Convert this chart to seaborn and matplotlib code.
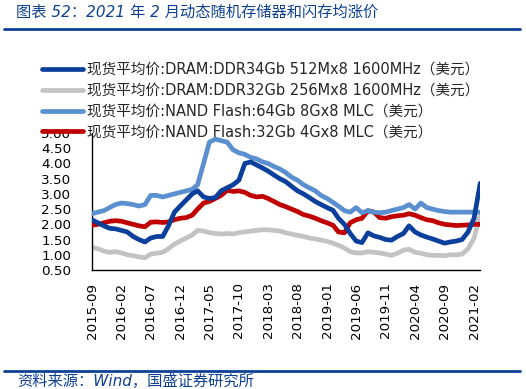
import pandas as pd
import seaborn as sns
import matplotlib.pyplot as plt
import matplotlib.dates as mdates

sns.set_style("white")
plt.rcParams['font.family'] = ['DejaVu Sans', 'Noto Sans CJK SC']

# monthly readings from 2015-09 to 2021-02, plus last point in early 2021-03
dates = list(pd.date_range("2015-09-01", "2021-02-01", freq="MS")) + [pd.Timestamp("2021-03-05")]

ddr3_4gb = [2.15, 2.05, 1.95, 1.87, 1.85, 1.80, 1.75, 1.60, 1.50, 1.42,
            1.55, 1.60, 1.60, 1.95, 2.40, 2.60, 2.80, 3.00, 3.10, 2.90,
            2.85, 2.88, 3.10, 3.20, 3.30, 3.45, 4.00, 4.05, 3.95, 3.85,
            3.75, 3.62, 3.50, 3.40, 3.25, 3.10, 3.00, 2.88, 2.75, 2.65,
            2.55, 2.46, 2.20, 2.00, 1.70, 1.45, 1.40, 1.72, 1.62, 1.57,
            1.50, 1.48, 1.60, 1.70, 1.95, 1.75, 1.65, 1.58, 1.52, 1.45,
            1.38, 1.42, 1.45, 1.50, 1.75, 2.20, 3.35]

ddr3_2gb = [1.24, 1.20, 1.12, 1.08, 1.10, 1.06, 1.00, 0.97, 0.93, 0.90,
            1.02, 1.05, 1.08, 1.20, 1.35, 1.45, 1.55, 1.65, 1.80, 1.78,
            1.73, 1.70, 1.68, 1.70, 1.68, 1.73, 1.75, 1.78, 1.80, 1.82,
            1.82, 1.80, 1.78, 1.72, 1.68, 1.64, 1.60, 1.55, 1.52, 1.48,
            1.44, 1.38, 1.31, 1.22, 1.10, 1.06, 1.06, 1.10, 1.08, 1.06,
            1.02, 0.98, 1.05, 1.15, 1.18, 1.08, 1.05, 1.00, 0.98, 0.98,
            0.97, 1.00, 1.00, 1.02, 1.20, 1.55, 2.35]

nand_64gb = [2.35, 2.40, 2.45, 2.55, 2.65, 2.70, 2.68, 2.65, 2.60, 2.65,
             2.95, 2.95, 2.90, 2.95, 3.00, 3.05, 3.10, 3.15, 3.30, 4.00,
             4.70, 4.80, 4.75, 4.70, 4.45, 4.35, 4.30, 4.20, 4.15, 4.05,
             4.00, 3.90, 3.82, 3.70, 3.55, 3.45, 3.30, 3.20, 3.10, 2.95,
             2.85, 2.72, 2.60, 2.45, 2.40, 2.55, 2.38, 2.45, 2.40, 2.38,
             2.40, 2.45, 2.50, 2.55, 2.65, 2.50, 2.70, 2.55, 2.50, 2.45,
             2.42, 2.40, 2.40, 2.40, 2.40, 2.40, 2.40]

nand_32gb = [1.97, 2.00, 2.05, 2.10, 2.12, 2.10, 2.05, 2.00, 1.95, 1.92,
             2.07, 2.08, 2.06, 2.08, 2.15, 2.20, 2.22, 2.30, 2.50, 2.70,
             2.75, 2.85, 2.95, 3.12, 3.08, 3.10, 3.05, 2.95, 2.90, 2.92,
             2.85, 2.75, 2.65, 2.58, 2.50, 2.42, 2.32, 2.27, 2.20, 2.12,
             2.05, 1.97, 1.75, 1.72, 2.05, 2.15, 2.20, 2.45, 2.40, 2.22,
             2.20, 2.25, 2.28, 2.30, 2.35, 2.30, 2.22, 2.15, 2.12, 2.05,
             2.00, 1.98, 1.96, 1.97, 1.98, 2.00, 2.00]

labels = ["现货平均价:DRAM:DDR34Gb 512Mx8 1600MHz（美元）",
          "现货平均价:DRAM:DDR32Gb 256Mx8 1600MHz（美元）",
          "现货平均价:NAND Flash:64Gb 8Gx8 MLC（美元）",
          "现货平均价:NAND Flash:32Gb 4Gx8 MLC（美元）"]
colors = ["#0a3f9c", "#c3c3c3", "#5a8fd0", "#c00000"]
series = [ddr3_4gb, ddr3_2gb, nand_64gb, nand_32gb]

df = pd.DataFrame({"date": dates})
for lab, vals in zip(labels, series):
    df[lab] = vals
long = df.melt(id_vars="date", var_name="series", value_name="price")

fig = plt.figure(figsize=(5.26, 3.89), dpi=100)
ax = fig.add_axes([0.175, 0.306, 0.738, 0.352])

sns.lineplot(data=long, x="date", y="price", hue="series",
             hue_order=labels, palette=colors, linewidth=3.4,
             ax=ax, legend=False)
# grey at the back, dark blue on top
zs = {labels[1]: 2, labels[3]: 3, labels[0]: 4, labels[2]: 3.5}
for line, lab in zip(ax.get_lines(), labels):
    line.set_zorder(zs[lab])

ax.set_xlim(dates[0], dates[-1])
ax.set_ylim(0.5, 5.0)
ax.set_yticks([0.5, 1.0, 1.5, 2.0, 2.5, 3.0, 3.5, 4.0, 4.5, 5.0])
ax.yaxis.set_major_formatter(plt.FormatStrFormatter("%.2f"))
xt = pd.date_range("2015-09-01", "2021-02-01", freq="5MS")
ax.set_xticks(xt)
ax.xaxis.set_major_formatter(mdates.DateFormatter("%Y-%m"))
ax.tick_params(axis="x", direction="in", length=4, width=1, pad=9,
               labelsize=9.7, rotation=90, colors="black")
ax.tick_params(axis="y", direction="in", length=4, width=1, pad=15,
               labelsize=9.7, colors="black")
ax.set_xlabel("")
ax.set_ylabel("")
for s in ["top", "right"]:
    ax.spines[s].set_visible(False)
for s in ["left", "bottom"]:
    ax.spines[s].set_color("black")
    ax.spines[s].set_linewidth(1)

handles = [plt.Line2D([], [], color=c, linewidth=3.4) for c in colors]
leg = fig.legend(handles, labels, loc="upper left",
                 bbox_to_anchor=(42 / 526, 1 - 62 / 389),
                 frameon=False, fontsize=10.5, handlelength=2.8,
                 handletextpad=0.3, labelspacing=0.4,
                 borderpad=0, borderaxespad=0)
leg.set_zorder(10)

blue = "#0e4194"
fig.text(16 / 526, 1 - 12 / 389, "图表 52：2021 年 2 月动态随机存储器和闪存均涨价",
         color=blue, fontsize=11, style="italic", va="center", ha="left")
fig.add_artist(plt.Line2D([4 / 526, 520 / 526], [1 - 29 / 389] * 2,
                          color=blue, linewidth=2))
fig.add_artist(plt.Line2D([4 / 526, 520 / 526], [1 - 371 / 389] * 2,
                          color=blue, linewidth=2))
fig.text(17 / 526, 1 - 381 / 389, "资料来源：Wind，国盛证券研究所",
         color=blue, fontsize=11, style="italic", va="center", ha="left")

fig.savefig("out.png", dpi=100)
